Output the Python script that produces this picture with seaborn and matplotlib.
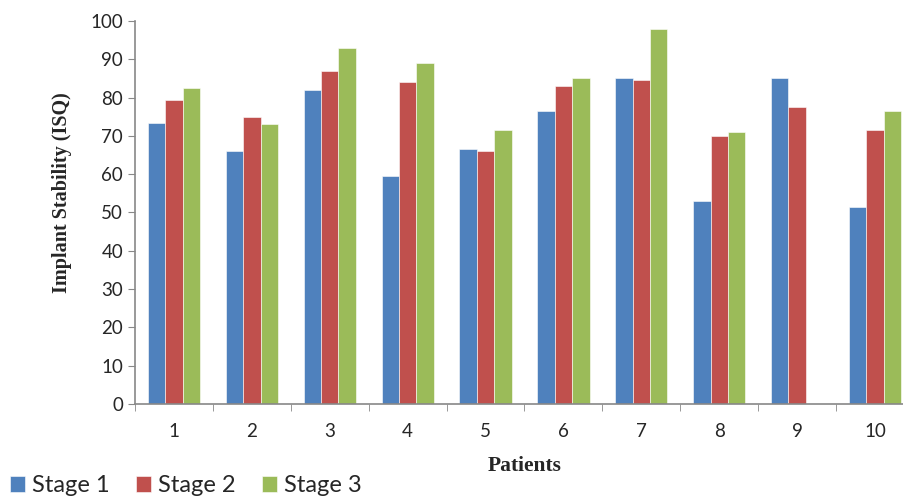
import numpy as np
import pandas as pd
import matplotlib
matplotlib.use("Agg")
import matplotlib.pyplot as plt
import seaborn as sns

# Daten
patients = ["1", "2", "3", "4", "5", "6", "7", "8", "9", "10"]
stage_1 = [73.5, 66, 82, 59.5, 66.5, 76.5, 85, 53, 85, 51.5]
stage_2 = [79.5, 75, 87, 84, 66, 83, 84.5, 70, 77.5, 71.5]
stage_3 = [82.5, 73, 93, 89, 71.5, 85, 98, 71, np.nan, 76.5]
stages = ["Stage 1", "Stage 2", "Stage 3"]
colors = ["#4F81BD", "#C0504D", "#9BBB59"]

df = pd.DataFrame({"Patient": patients, "Stage 1": stage_1,
                   "Stage 2": stage_2, "Stage 3": stage_3})
df = df.melt(id_vars="Patient", var_name="Stage", value_name="ISQ")

sns.set_style("white")
plt.rcParams["font.family"] = ["Lato", "DejaVu Sans"]

fig = plt.figure(figsize=(9.04, 4.98), dpi=100)
ax = fig.add_axes([0.1493, 0.1888, 0.8617, 0.769])

sns.barplot(data=df, x="Patient", y="ISQ", hue="Stage", order=patients,
            hue_order=stages, palette=colors, width=0.67, saturation=1,
            edgecolor="white", linewidth=0.4, ax=ax, legend=True)

ax.set_xlim(-0.5, 9.5)
ax.set_ylim(0, 100)
ax.set_yticks(range(0, 101, 10))
ax.tick_params(axis="y", labelsize=13.5, length=5, color="#888888", direction="out", left=True)
ax.tick_params(axis="x", which="major", labelsize=13.5, length=0, pad=14)
ax.set_xticks(np.arange(-0.5, 10, 1), minor=True)
ax.tick_params(axis="x", which="minor", length=5, color="#888888", direction="out", bottom=True)

for side in ["top", "right"]:
    ax.spines[side].set_visible(False)
for side in ["left", "bottom"]:
    ax.spines[side].set_color("#888888")
    ax.spines[side].set_linewidth(1.2)

ax.set_ylabel("Implant Stability (ISQ)", family="Liberation Serif",
              fontweight="bold", fontsize=14.5)
ax.yaxis.set_label_coords(-0.081, 0.553)
ax.set_xlabel("Patients", family="Liberation Serif", fontweight="bold",
              fontsize=15.5, labelpad=11)

handles, labels = ax.get_legend_handles_labels()
ax.get_legend().remove()
fig.legend(handles, labels, loc="center left", bbox_to_anchor=(0.011, 0.025),
           ncol=3, frameon=False, fontsize=17, handlelength=0.65,
           handleheight=0.65, handletextpad=0.3, columnspacing=1.1,
           borderpad=0, borderaxespad=0)

fig.savefig("out.png", dpi=100)
